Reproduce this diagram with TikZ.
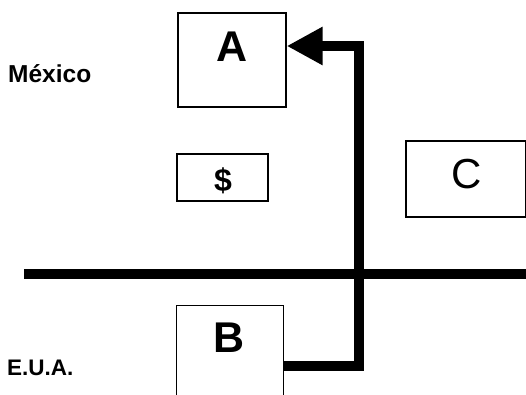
\documentclass[tikz,border=0pt]{standalone}
\usepackage{fontspec}
\setmainfont{Liberation Sans}
\usetikzlibrary{arrows.meta}
\begin{document}
\begin{tikzpicture}[x=1pt,y=-1pt,
  box/.style={draw=black, line width=1.4pt, fill=white, inner sep=0pt},
  letter/.style={anchor=base, inner sep=0pt, font=\fontsize{43}{43}\selectfont\bfseries},
  region/.style={anchor=base west, inner sep=0pt, font=\fontsize{24.5}{24.5}\selectfont\bfseries},
  heavy/.style={line width=9.5pt, line join=miter}]
  \clip (0,0) rectangle (526,395);
  \fill[white] (0,0) rectangle (526,395);

  % border line between the two countries
  \coordinate (borderW) at (24,274);
  \coordinate (borderE) at (530,274);
  \draw[heavy] (borderW) -- (borderE);

  % boxes
  \node[box, minimum width=108, minimum height=94] (A) at (232,60) {};
  \node[letter] (Alabel) at (232,62) {A};
  \node[box, minimum width=91, minimum height=47] (D) at (222.5,177.5) {};
  \node[anchor=base, inner sep=0pt, font=\fontsize{32}{32}\selectfont\bfseries] (Dlabel) at (223,191) {\$};
  \node[box, minimum width=120, minimum height=76] (C) at (466,179) {};
  \node[anchor=base, inner sep=0pt, font=\fontsize{42}{42}\selectfont] (Clabel) at (467,188) {C};
  \node[box, minimum width=107, minimum height=100, anchor=north west] (B) at (176,305) {};
  \node[letter] (Blabel) at (229.5,352) {B};

  % region labels
  \node[region] (mex) at (8,83) {México};
  \node[region, font=\fontsize{22.5}{22.5}\selectfont\bfseries] (usa) at (7,375) {E.U.A.};

  % flow from B up to A
  \coordinate (low) at (359,366);
  \coordinate (high) at (359,46);
  \draw[heavy, -{Triangle[length=36pt, width=36pt]}]
    (B.east |- low) -- (low) -- (high) -- (A.east |- high);
\end{tikzpicture}
\end{document}
